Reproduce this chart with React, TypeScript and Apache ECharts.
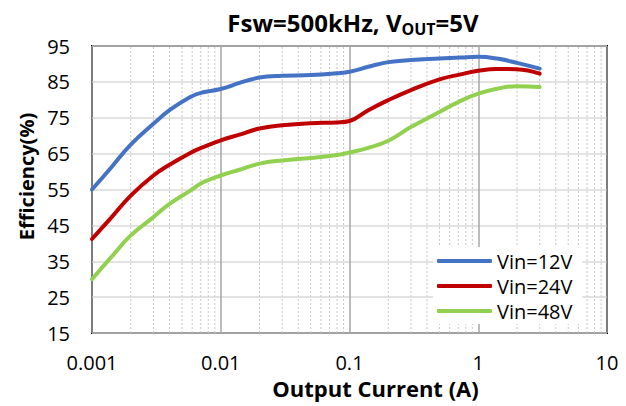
import React, { useEffect, useRef } from "react";
import * as echarts from "echarts";

const currents = [0.001, 0.0014, 0.002, 0.003, 0.004, 0.0058, 0.0073, 0.01, 0.014, 0.02, 0.03, 0.05, 0.08, 0.1, 0.14, 0.2, 0.3, 0.5, 0.73, 1, 1.4, 2, 3];
const vin12 = [55.0, 61.0, 67.5, 73.3, 77.1, 80.8, 82.1, 83.0, 84.7, 86.2, 86.7, 86.9, 87.4, 87.8, 89.2, 90.5, 91.1, 91.5, 91.8, 92.0, 91.5, 90.3, 88.7];
const vin24 = [41.2, 47.0, 53.3, 58.9, 61.9, 65.2, 66.8, 68.7, 70.3, 72.0, 72.9, 73.5, 73.7, 74.1, 77.1, 79.9, 82.7, 85.7, 87.1, 88.1, 88.6, 88.5, 87.3];
const vin48 = [30.0, 36.0, 42.2, 47.3, 51.0, 54.7, 57.0, 58.9, 60.5, 62.2, 63.1, 63.8, 64.6, 65.3, 66.6, 68.6, 72.4, 76.6, 79.7, 81.7, 83.1, 83.8, 83.6];
const seriesNames = ["Vin=12V", "Vin=24V", "Vin=48V"];
const seriesColors = ["#4472C4", "#C00000", "#92D050"];
const decades = [0.001, 0.01, 0.1, 1];
const minorMultipliers = [2, 3, 4, 5, 6, 7, 8, 9];
const yMin = 15;
const yMax = 95;

const FONT = "Open Sans";

export default function App() {
  const ref = useRef<HTMLDivElement>(null);
  useEffect(() => {
    if (!ref.current) return;
    const chart = echarts.init(ref.current, undefined, { renderer: "svg" });
    const minorXs: number[] = [];
    decades.forEach((d) => minorMultipliers.forEach((m) => minorXs.push(+(d * m).toPrecision(3))));
    const all = [vin12, vin24, vin48];
    chart.setOption({
      animation: false,
      textStyle: { fontFamily: FONT },
      title: {
        text: "{a|Fsw=500kHz, V}{b|OUT}{a|=5V}",
        left: 348,
        top: 2,
        textAlign: "center",
        textStyle: {
          rich: {
            a: { fontFamily: FONT, fontSize: 24, fontWeight: "bold", color: "#000", lineHeight: 30 },
            b: { fontFamily: FONT, fontSize: 16, fontWeight: "bold", color: "#000", lineHeight: 13, verticalAlign: "bottom" },
          },
        },
      },
      grid: {
        left: 92,
        right: 19,
        top: 46,
        bottom: 73,
        show: true,
        borderColor: "#000",
        borderWidth: 2,
        backgroundColor: "transparent",
      },
      legend: {
        orient: "vertical",
        left: 433,
        top: 247,
        padding: [3, 10, 2, 4],
        backgroundColor: "#fff",
        itemWidth: 55,
        itemHeight: 4,
        itemGap: 3,
        icon: "roundRect",
        textStyle: { fontFamily: FONT, fontSize: 20, color: "#000", lineHeight: 22 },
        data: seriesNames,
      },
      xAxis: {
        type: "log",
        logBase: 10,
        min: 0.001,
        max: 10,
        axisLine: { show: false },
        axisTick: { show: false },
        axisLabel: {
          fontFamily: FONT,
          fontSize: 20,
          color: "#000",
          margin: 19,
          formatter: (v: number) => String(+v.toPrecision(3)),
        },
        splitLine: { show: true, lineStyle: { color: "#a6a6a6", width: 1.5 } },
        name: "Output Current (A)",
        nameLocation: "middle",
        nameGap: 44,
        nameTextStyle: { fontFamily: FONT, fontSize: 22, fontWeight: "bold", color: "#000", padding: [0, 0, 0, 52] },
      },
      yAxis: {
        type: "value",
        min: yMin,
        max: yMax,
        interval: 10,
        axisLine: { show: false },
        axisTick: { show: false },
        axisLabel: { fontFamily: FONT, fontSize: 20, color: "#000", margin: 22 },
        splitLine: { show: true, lineStyle: { color: "#d9d9d9", width: 1.5 } },
        name: "Efficiency(%)",
        nameLocation: "middle",
        nameGap: 56,
        nameTextStyle: { fontFamily: FONT, fontSize: 20, fontWeight: "bold", color: "#000", padding: [0, 0, 0, 26] },
      },
      series: [
        {
          name: "minor",
          type: "custom",
          silent: true,
          z: 1,
          data: minorXs.map((x) => [x]),
          encode: { x: 0 },
          renderItem: (params: any, api: any) => {
            const x = api.value(0);
            const p1 = api.coord([x, yMin]);
            const p2 = api.coord([x, yMax]);
            return {
              type: "line",
              shape: { x1: p1[0], y1: p1[1], x2: p2[0], y2: p2[1] },
              style: { stroke: "#c8c8c8", lineWidth: 1, lineDash: [2, 2] },
            };
          },
        },
        ...all.map((vals, i) => ({
          name: seriesNames[i],
          type: "line",
          z: 10,
          smooth: 0.45,
          showSymbol: false,
          symbol: "none",
          color: seriesColors[i],
          lineStyle: { color: seriesColors[i], width: 4, cap: "round", join: "round" },
          data: currents.map((c, j) => [c, vals[j]]),
        })),
      ],
    });
    return () => chart.dispose();
  }, []);
  return <div ref={ref} style={{ position: "absolute", left: 0, top: 0, width: 626, height: 406 }} />;
}
